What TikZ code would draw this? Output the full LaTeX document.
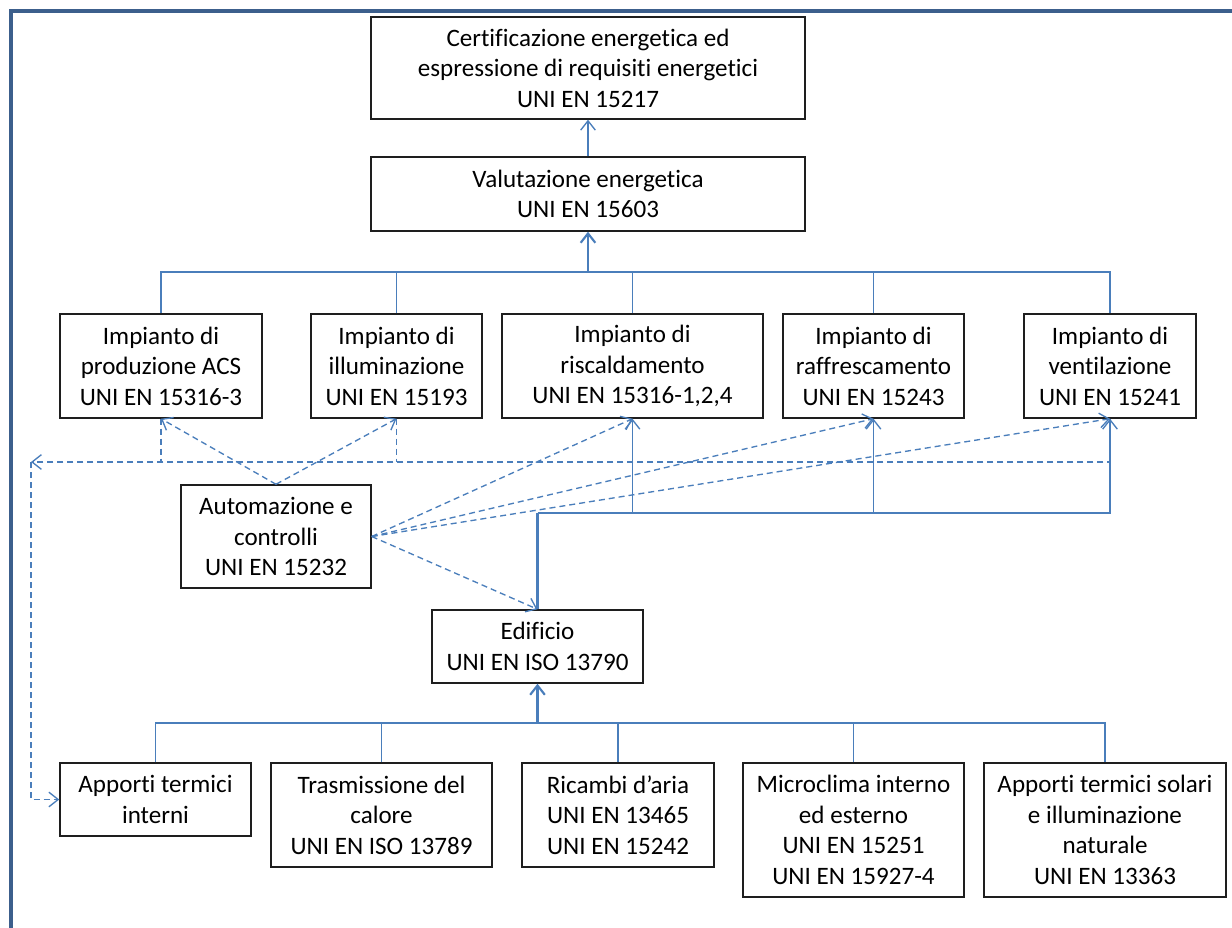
\documentclass[tikz,border=0pt]{standalone}
\usepackage{fontspec}
\setmainfont{Carlito}[Ligatures=CommonOff]
\usetikzlibrary{arrows.meta}
\definecolor{frameblue}{RGB}{60,95,140}
\definecolor{lineblue}{RGB}{74,126,187}
\definecolor{boxline}{RGB}{30,30,30}
\begin{document}
\begin{tikzpicture}[x=0.75pt,y=-0.75pt,
  box/.style={draw=boxline, line width=1.1pt, fill=white, align=center, inner sep=0pt, font=\fontsize{18.8pt}{22.9pt}\selectfont},
  sz/.style 2 args={minimum width=#1*0.75pt, minimum height=#2*0.75pt},
  conn/.style={draw=lineblue, line width=1pt},
  thickconn/.style={draw=lineblue, line width=1.6pt},
  dsh/.style={draw=lineblue, line width=1pt, dash pattern=on 4.5pt off 3pt},
  tip/.style={-{Straight Barb[length=7pt,width=11pt]}},
]
\useasboundingbox (0,0) rectangle (1232,928);
\fill[white] (0,0) rectangle (1232,928);
\draw[frameblue, line width=3pt] (1240,10.5) -- (10.5,10.5) -- (10.5,940);

\node[box, sz={434}{102}] (cert) at (588,68) {Certificazione energetica ed\\espressione di requisiti energetici\\UNI EN 15217};
\node[box, sz={434}{74}] (valut) at (588,194) {Valutazione energetica\\UNI EN 15603};
\node[box, sz={202}{104}] (acs) at (161,366) {Impianto di\\produzione ACS\\UNI EN 15316-3};
\node[box, sz={171}{104}] (illum) at (396.5,366) {Impianto di\\illuminazione\\UNI EN 15193};
\node[box, sz={261}{104}] (risc) at (632.5,366) {Impianto di\\riscaldamento\\UNI EN 15316-1,2,4};
\node[box, sz={181}{104}] (raff) at (873.5,366) {Impianto di\\raffrescamento\\UNI EN 15243};
\node[box, sz={172}{104}] (vent) at (1110,366) {Impianto di\\ventilazione\\UNI EN 15241};
\node[box, sz={190}{103}] (autom) at (276,536.5) {Automazione e\\controlli\\UNI EN 15232};
\node[box, sz={211}{73}] (edif) at (537.5,646.5) {Edificio\\UNI EN ISO 13790};
\node[box, sz={191}{73}] (appint) at (155.5,799.5) {Apporti termici\\interni};
\node[box, sz={221}{104}] (trasm) at (381.5,815) {Trasmissione del\\calore\\UNI EN ISO 13789};
\node[box, sz={192}{104}] (ricambi) at (618,815) {Ricambi d’aria\\UNI EN 13465\\UNI EN 15242};
\node[box, sz={221}{134}] (micro) at (853.5,830) {Microclima interno\\ed esterno\\UNI EN 15251\\UNI EN 15927-4};
\node[box, sz={242}{134}] (solari) at (1105,830) {Apporti termici solari\\e illuminazione\\naturale\\UNI EN 13363};

\coordinate (tb) at (588,272);
\coordinate (mb) at (537.5,513);
\coordinate (bb) at (537.5,723);
\coordinate (dl) at (31,462);

% top tree
\draw[conn,tip] (valut.north) -- (cert.south);
\draw[thickconn,tip] (tb) -- (valut.south);
\draw[conn] (acs.north) |- (vent.north |- tb) -- (vent.north);
\draw[conn] (illum.north) -- (illum.north |- tb);
\draw[conn] (risc.north) -- (risc.north |- tb);
\draw[conn] (raff.north) -- (raff.north |- tb);

% building to systems
\draw[thickconn] (edif.north) -- (mb);
\draw[conn,tip] (mb) -| (vent.south);
\draw[conn,tip] (risc.south |- mb) -- (risc.south);
\draw[conn,tip] (raff.south |- mb) -- (raff.south);

% bottom tree
\draw[thickconn,tip] (bb) -- (edif.south);
\draw[conn] (appint.north) |- (solari.north |- bb) -- (solari.north);
\draw[conn] (trasm.north) -- (trasm.north |- bb);
\draw[conn] (ricambi.north) -- (ricambi.north |- bb);
\draw[conn] (micro.north) -- (micro.north |- bb);

% dashed feedback
\draw[dsh,tip] (vent.south) |- (dl);
\draw[dsh] (acs.south) -- (acs.south |- dl);
\draw[dsh] (illum.south) -- (illum.south |- dl);
\draw[dsh,tip] (dl) |- (appint.west);

% automation
\draw[dsh,tip] (autom.north) -- (acs.south);
\draw[dsh,tip] (autom.north) -- (illum.south);
\draw[dsh,tip] (autom.east) -- (risc.south);
\draw[dsh,tip] (autom.east) -- (raff.south);
\draw[dsh,tip] (autom.east) -- (vent.south);
\draw[dsh,tip] (autom.east) -- (edif.north);
\end{tikzpicture}
\end{document}
